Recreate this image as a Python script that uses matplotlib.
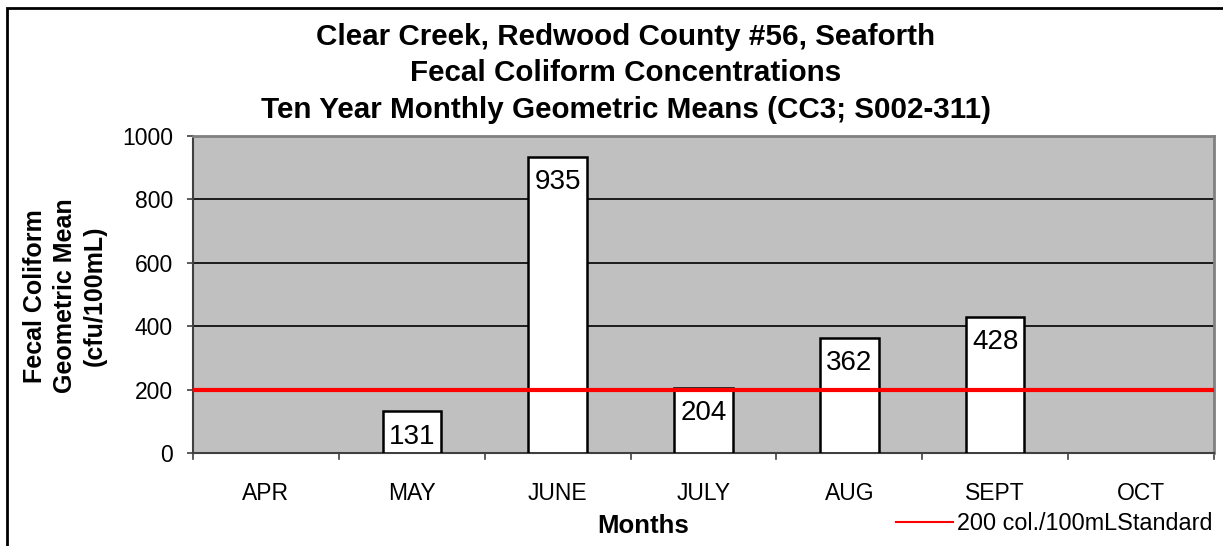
import matplotlib
matplotlib.use("Agg")
import matplotlib.pyplot as plt
from matplotlib.patches import Rectangle
from matplotlib.lines import Line2D

months = ["APR", "MAY", "JUNE", "JULY", "AUG", "SEPT", "OCT"]
values = [None, 131, 935, 204, 362, 428, None]
standard = 200
title_lines = ["Clear Creek, Redwood County #56, Seaforth",
               "Fecal Coliform Concentrations",
               "Ten Year Monthly Geometric Means (CC3; S002-311)"]

plt.rcParams['font.family'] = ['Liberation Sans', 'DejaVu Sans']

W, H = 1223, 546
fig = plt.figure(figsize=(W / 100, H / 100), dpi=100)
ax = fig.add_axes([193 / W, 1 - 453 / H, (1214 - 193) / W, (453 - 136) / H])
ax.set_facecolor("#C0C0C0")

ax.set_xlim(-0.5, len(months) - 0.5)
ax.set_ylim(0, 1000)
ax.set_yticks(range(0, 1001, 200))
ax.tick_params(axis='y', labelsize=16.5, length=4.5, width=1.2, color="#404040", pad=10)
ax.yaxis.grid(True, color="black", linewidth=1.2)
ax.set_axisbelow(True)

ax.set_xticks(range(len(months)))
ax.set_xticklabels(months, fontsize=16.5)
ax.tick_params(axis='x', length=0, pad=21)
for b in [i - 0.5 for i in range(len(months) + 1)]:
    ax.plot([b, b], [0, -0.02], transform=ax.get_xaxis_transform(), color="#404040",
            linewidth=1.2, clip_on=False)

for s in ['top', 'right']:
    ax.spines[s].set_color("#808080")
    ax.spines[s].set_linewidth(2)
for s in ['left', 'bottom']:
    ax.spines[s].set_color("#404040")
    ax.spines[s].set_linewidth(1.5)

for i, v in enumerate(values):
    if v is None:
        continue
    ax.bar(i, v, width=0.4, color="white", edgecolor="black", linewidth=1.8, zorder=3)
    ax.text(i, v - 38, str(v), ha="center", va="top", fontsize=20, zorder=4)

ax.axhline(standard, color="#FF0000", linewidth=3, zorder=5)

tx = 626 / W
fig.text(tx, 1 - 37 / H, title_lines[0], ha="center", va="center", fontsize=21.3, fontweight="bold")
fig.text(tx, 1 - 73 / H, title_lines[1], ha="center", va="center", fontsize=21.3, fontweight="bold")
fig.text(tx, 1 - 110 / H, title_lines[2], ha="center", va="center", fontsize=21.3, fontweight="bold")

fig.text(65 / W, 1 - 296 / H, "Fecal Coliform\nGeometric Mean\n(cfu/100mL)", rotation=90,
         ha="center", va="center", fontsize=18, fontweight="bold", linespacing=1.3)
fig.text(643 / W, 1 - 526 / H, "Months", ha="center", va="center", fontsize=18.5, fontweight="bold")

fig.add_artist(Line2D([896 / W, 953 / W], [1 - 522 / H, 1 - 522 / H], color="#FF0000",
                      linewidth=1.5))
fig.text(957 / W, 1 - 523 / H, "200 col./100mLStandard", ha="left", va="center", fontsize=16.8)

fig.add_artist(Rectangle((7 / W, -0.05), 1.1, 1 - 8 / H + 0.05, transform=fig.transFigure,
                         fill=False, edgecolor="black", linewidth=2))

fig.savefig("out.png", dpi=100)
